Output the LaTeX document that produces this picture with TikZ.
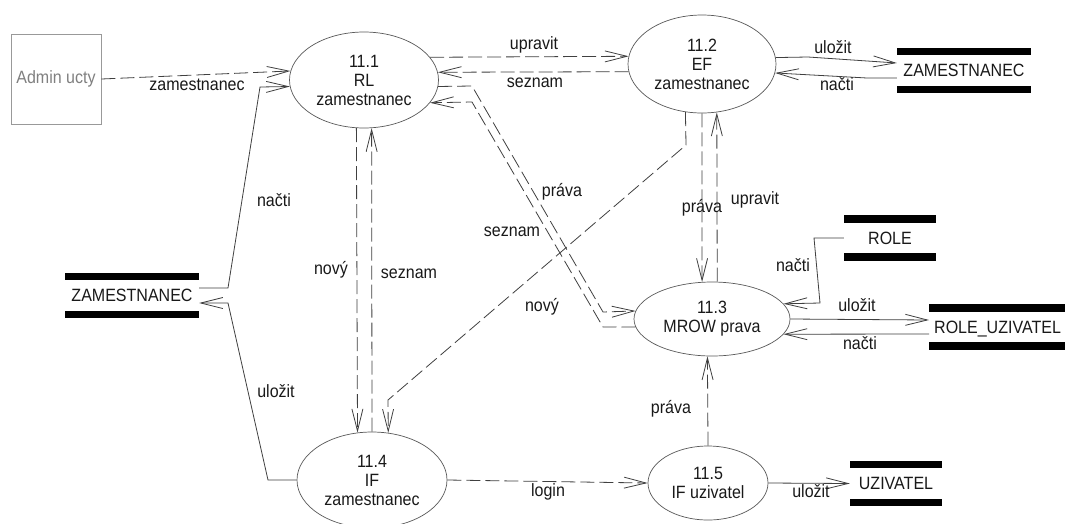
\documentclass[tikz,border=0pt]{standalone}
\usepackage{fontspec}
\setmainfont{Liberation Sans}[FakeStretch=0.9]
\usetikzlibrary{arrows.meta,shapes.geometric}

\begin{document}
\begin{tikzpicture}[x=1pt,y=-1pt,
  font=\fontsize{17.8}{19}\selectfont,
  line/.style={draw=black!75, line width=0.8pt},
  sflow/.style={line, -{Straight Barb[length=22pt,width=11pt]}},
  dflow/.style={sflow, dash pattern=on 14pt off 5pt},
  proc/.style={ellipse, draw=black!65, line width=0.7pt, inner sep=0pt,
    align=center, text=black!90},
  store/.style={inner sep=0pt, text height=12.7pt, text depth=0pt,
    minimum height=45pt, text=black!90},
  lbl/.style={inner sep=0pt, text height=12.7pt, text depth=3.8pt, text=black!90},
]
\fill[white] (0,0) rectangle (1065,523);
\useasboundingbox (0,0) rectangle (1065,523);

% external entity
\node[draw=black!40, line width=0.7pt, text=black!50, minimum width=90pt,
      minimum height=90pt] (admin) at (56,79) {Admin ucty};

% processes
\node[proc, minimum width=149pt, minimum height=96pt] (p11) at (364,80) {11.1\\RL\\zamestnanec};
\node[proc, minimum width=148pt, minimum height=98pt] (p12) at (702,64) {11.2\\EF\\zamestnanec};
\node[proc, minimum width=156pt, minimum height=74pt] (p13) at (712,319) {11.3\\MROW prava};
\node[proc, minimum width=150pt, minimum height=96pt] (p14) at (372,480) {11.4\\IF\\zamestnanec};
\node[proc, minimum width=120pt, minimum height=74pt] (p15) at (708,483) {11.5\\IF uzivatel};

% data stores
\node[store, minimum width=134pt] (zl) at (132,295.5) {ZAMESTNANEC};
\node[store, minimum width=134pt] (zur) at (964,70.5) {ZAMESTNANEC};
\node[store, minimum width=92pt] (role) at (890,238) {ROLE};
\node[store, minimum width=92pt] (uz) at (896,483.5) {UZIVATEL};
\node[store, anchor=west, inner xsep=5pt] (rolu) at (929,327) {ROLE\_UZIVATEL};
\foreach \s in {zl,zur,role,uz,rolu}{
  \fill[black] (\s.north west) rectangle ([yshift=-7.5pt]\s.north east);
  \fill[black] (\s.south west) rectangle ([yshift=7.5pt]\s.south east);
}

% flows
\draw[dflow] (admin.east) -- (p11.173.8);
\draw[sflow] ([yshift=7.5pt]zl.east) -- (228,288) -- (260,87) -- (p11.185.4);
\draw[sflow] (p14.west) -- (268,480) -- (228,303) -- ([yshift=-7.5pt]zl.east);

\draw[dflow] (p11.19.4) -- (p12.174.5);
\draw[dflow] (p12.186.3) -- (p11.6.2);
\draw[dflow] (p11.355.4) -- (472,86) -- (603,312) -- (p13.174.8);
\draw[dflow] (p13.186) -- (603,327) -- (472,102) -- (p11.341.6);

\draw[dflow] (p12.251.5) -- (686,145) -- (388,400) -- (p14.71.2);
\draw[dflow] (p12.south) -- (p13.105.2);
\draw[dflow] (p13.82.3) -- (p12.287.4);
\draw[dflow] (p11.261.7) -- (p14.107.7);
\draw[dflow] (p14.north) -- (p11.279.5);

\draw[sflow] (p12.5.5) -- (808,57) -- ([yshift=7.5pt]zur.west);
\draw[sflow] ([yshift=-7.5pt]zur.west) -- (867,78) -- (p12.353.7);

\draw[sflow] (role.west) -- (814,238) -- (820,303) -- (p13.12.8);
\draw[sflow] (p13.east) -- ([yshift=7pt]rolu.west);
\draw[sflow] ([yshift=-7pt]rolu.west) -- (p13.348.1);

\draw[dflow] (p15.north) -- (p13.263.8);
\draw[dflow] (p14.east) -- (p15.west);
\draw[sflow] (p15.east) -- (uz.west);

% flow labels
\node[lbl] (t1) at (197,86) {zamestnanec};
\node[lbl] (t2) at (274,202) {načti};
\node[lbl] (t3) at (276,393) {uložit};
\node[lbl] (t4) at (534,45) {upravit};
\node[lbl] (t5) at (535,83) {seznam};
\node[lbl] (t6) at (833,49) {uložit};
\node[lbl] (t7) at (837,86) {načti};
\node[lbl] (t8) at (331,270) {nový};
\node[lbl] (t9) at (409,274) {seznam};
\node[lbl] (t10) at (562,192) {práva};
\node[lbl] (t11) at (512,232) {seznam};
\node[lbl] (t12) at (542,307) {nový};
\node[lbl] (t13) at (702,208) {práva};
\node[lbl] (t14) at (755,200) {upravit};
\node[lbl] (t15) at (793,267) {načti};
\node[lbl] (t16) at (857,307) {uložit};
\node[lbl] (t17) at (860,345) {načti};
\node[lbl] (t18) at (671,409) {práva};
\node[lbl] (t19) at (548,492) {login};
\node[lbl] (t20) at (811,493) {uložit};
\end{tikzpicture}
\end{document}
